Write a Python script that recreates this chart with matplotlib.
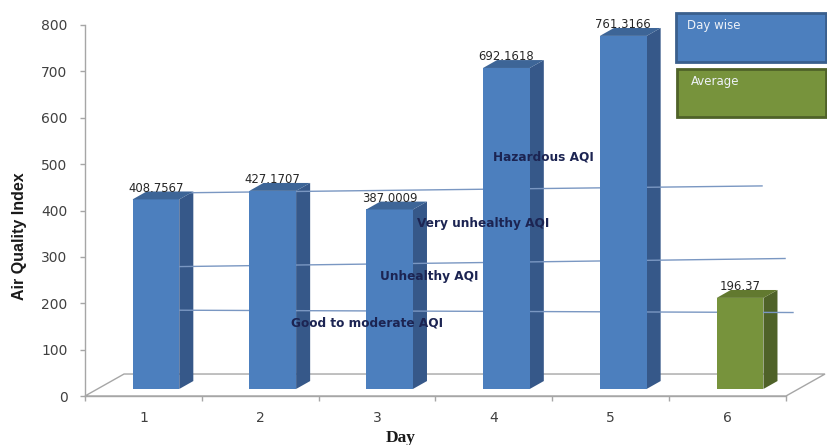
import matplotlib
matplotlib.use("Agg")
import matplotlib.pyplot as plt
from matplotlib.patches import Polygon, Rectangle
import numpy as np

# ---- data -------------------------------------------------------------
days = [1, 2, 3, 4, 5, 6]
day_labels = ["1", "2", "3", "4", "5", "6"]
aqi_values = [408.7567, 427.1707, 387.0009, 692.1618, 761.3166, 196.37]
value_labels = ["408.7567", "427.1707", "387.0009", "692.1618", "761.3166", "196.37"]
bar_series = ["Day wise", "Day wise", "Day wise", "Day wise", "Day wise", "Average"]
y_ticks = [0, 100, 200, 300, 400, 500, 600, 700, 800]

# AQI category names and where they are written
band_names = ["Hazardous AQI", "Very unhealthy AQI", "Unhealthy AQI", "Good to moderate AQI"]
band_label_x = [3.99, 3.34, 3.025, 2.263]
band_label_y = [515, 371, 257, 157]

# hand-drawn boundary lines between categories (start, end)
boundary_x = [(1.296, 6.295), (1.296, 6.492), (1.296, 6.56)]
boundary_y = [(438, 453), (279, 296.5), (185, 180)]

legend_names = ["Day wise", "Average"]

# ---- styling ----------------------------------------------------------
face_colors = {
    "Day wise": ("#4c7fbe", "#365889", "#3d6597", "#3a5f8d"),   # front, side, top, edge
    "Average": ("#77933c", "#4f6228", "#62792f", "#4f6228"),
}
axis_gray = "#a6a6a6"
band_text_color = "#1c2452"
band_line_color = "#7a97c2"

# pseudo-3D depth of the floor, in data units (category width, AQI)
FLOOR_DX, FLOOR_DY = 0.334, 47.4
FRONT_FRAC, BACK_FRAC = 0.32, 0.68
BAR_WIDTH = 0.40

W, H = 828, 445
fig = plt.figure(figsize=(W / 100, H / 100), dpi=100)
fig.patch.set_facecolor("white")
ax = fig.add_axes([85 / W, 49 / H, 701 / W, 371 / H])
ax.set_xlim(0.5, 6.5)
ax.set_ylim(0, 800)
ax.set_facecolor("none")

# floor
floor = Polygon([(0.5, 0), (0.5 + FLOOR_DX, FLOOR_DY),
                 (6.5 + FLOOR_DX, FLOOR_DY), (6.5, 0)],
                closed=True, facecolor="white", edgecolor=axis_gray,
                linewidth=1, zorder=1, clip_on=False)
ax.add_patch(floor)

fx, fy = FRONT_FRAC * FLOOR_DX, FRONT_FRAC * FLOOR_DY
sx, sy = (BACK_FRAC - FRONT_FRAC) * FLOOR_DX, (BACK_FRAC - FRONT_FRAC) * FLOOR_DY

for x, v, s, lab in zip(days, aqi_values, bar_series, value_labels):
    front, side, top, _ = face_colors[s]
    xl = x + fx - BAR_WIDTH / 2
    xr = x + fx + BAR_WIDTH / 2
    ax.bar(x + fx, v, bottom=fy, width=BAR_WIDTH, color=front,
           linewidth=0, zorder=4, clip_on=False)
    ax.add_patch(Polygon([(xr, fy), (xr + sx, fy + sy), (xr + sx, fy + sy + v),
                          (xr, fy + v)], closed=True, facecolor=side,
                         linewidth=0, zorder=2, clip_on=False))
    ax.add_patch(Polygon([(xl, fy + v), (xr, fy + v), (xr + sx, fy + v + sy),
                          (xl + sx, fy + v + sy)], closed=True, facecolor=top,
                         linewidth=0, zorder=4, clip_on=False))
    ax.text(x + fx, fy + v + 24, lab, ha="center", va="center",
            fontsize=8.4, color="#262626", family="DejaVu Sans",
            zorder=5, clip_on=False)

for bx, by in zip(boundary_x, boundary_y):
    ax.plot(bx, by, color=band_line_color, linewidth=1, zorder=3, clip_on=False)

for name, tx, ty in zip(band_names, band_label_x, band_label_y):
    ax.text(tx, ty, name, ha="left", va="center", fontsize=8.7,
            fontweight="bold", color=band_text_color, family="DejaVu Sans",
            zorder=6)

# axes
for side_name in ("top", "right"):
    ax.spines[side_name].set_visible(False)
for side_name in ("left", "bottom"):
    ax.spines[side_name].set_color(axis_gray)
    ax.spines[side_name].set_linewidth(1)
    ax.spines[side_name].set_zorder(1.5)

ax.set_yticks(y_ticks)
ax.set_yticklabels([str(t) for t in y_ticks])
ax.tick_params(axis="y", direction="out", length=3.6, width=1, color=axis_gray,
               pad=9, labelsize=10, labelcolor="#404040")

ax.set_xticks(np.arange(0.5, 7.0, 1.0))
ax.set_xticklabels([])
ax.tick_params(axis="x", which="major", direction="out", length=3.6, width=1,
               color=axis_gray)
ax.set_xticks(days, labels=day_labels, minor=True)
ax.tick_params(axis="x", which="minor", length=0, pad=11, labelsize=10,
               labelcolor="#404040")

fig.text(20 / W, 1 - 236 / H, "Air Quality Index", rotation=90,
         ha="center", va="center", fontsize=11.5, fontweight="bold",
         family="Liberation Sans", color="#1a1a1a")
fig.text(401 / W, 1 - 438 / H, "Day", ha="center", va="center",
         fontsize=12.5, fontweight="bold", family="Liberation Serif",
         color="#1a1a1a")

# legend boxes
legend_boxes = [(676, 13, 826, 62), (677, 69, 826, 117)]
legend_text_x = [687, 691]
for name, (x0, y0, x1, y1), tx in zip(legend_names, legend_boxes, legend_text_x):
    front, _, _, edge = face_colors[name]
    fig.patches.append(Rectangle((x0 / W, 1 - y1 / H), (x1 - x0) / W, (y1 - y0) / H,
                                 transform=fig.transFigure, facecolor=front,
                                 edgecolor=edge, linewidth=2))
    fig.text(tx / W, 1 - (y0 + 12) / H, name, ha="left", va="center",
             fontsize=8.5, color="#eef2f8", family="DejaVu Sans")

fig.savefig("out.png", dpi=100)
